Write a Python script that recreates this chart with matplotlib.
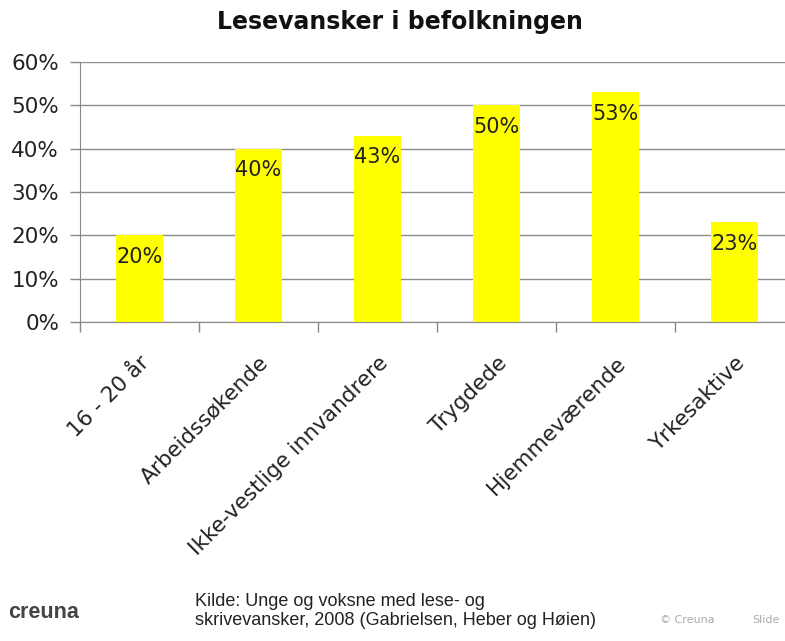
import matplotlib
matplotlib.use("Agg")
import matplotlib.pyplot as plt
from matplotlib.ticker import FixedLocator, PercentFormatter

categories = ["16 - 20 år", "Arbeidssøkende", "Ikke-vestlige innvandrere",
              "Trygdede", "Hjemmeværende", "Yrkesaktive"]
values = [20, 40, 43, 50, 53, 23]
yticks = [0, 10, 20, 30, 40, 50, 60]

W, H = 785, 641
fig = plt.figure(figsize=(W / 100, H / 100), dpi=100)
fig.patch.set_facecolor("white")
ax = fig.add_axes([80 / W, (H - 322) / H, 714 / W, 260 / H])

FONT = "DejaVu Sans"
x = range(len(categories))
ax.bar(x, values, width=0.39, color="#ffff00", zorder=3)
for i, v in enumerate(values):
    ax.text(i, v - 2.6, f"{v}%", ha="center", va="top", fontsize=15,
            family=FONT, color="#222222", zorder=4)

ax.set_xlim(-0.5, 5.5)
ax.set_ylim(0, 60)
ax.set_yticks(yticks)
ax.yaxis.set_major_formatter(PercentFormatter(decimals=0))
ax.set_xticks([i for i in x])
ax.set_xticklabels(categories, rotation=45, ha="right", rotation_mode="anchor",
                   fontsize=15.5, family=FONT, color="#222222")
ax.xaxis.set_minor_locator(FixedLocator([i + 0.5 for i in range(-1, 6)]))
ax.tick_params(axis="x", which="major", length=0, pad=22)
ax.tick_params(axis="x", which="minor", length=7, color="#888888", width=1)
ax.tick_params(axis="y", length=7, color="#888888", width=1, pad=8,
               labelsize=15.5, labelcolor="#222222")
for lab in ax.get_yticklabels():
    lab.set_family(FONT)
ax.grid(axis="y", color="#8c8c8c", linewidth=1, zorder=0)
for s in ["top", "right"]:
    ax.spines[s].set_visible(False)
ax.spines["left"].set_color("#888888")
ax.spines["bottom"].set_color("#888888")

fig.text(400 / W, 1 - 22 / H, "Lesevansker i befolkningen", ha="center",
         va="center", fontsize=17, fontweight="bold", family=FONT, color="#111111")

fig.text(8 / W, 1 - 612 / H, "creuna", ha="left", va="center", fontsize=15.5,
         fontweight="bold", family="Liberation Sans", color="#444444")
fig.text(195 / W, 1 - 611 / H,
         "Kilde: Unge og voksne med lese- og\nskrivevansker, 2008 (Gabrielsen, Heber og Høien)",
         ha="left", va="center", fontsize=13, family="Liberation Sans",
         color="#222222", linespacing=1.2)
fig.text(660 / W, 1 - 620 / H, "© Creuna", ha="left", va="center", fontsize=8,
         family=FONT, color="#aaaaaa")
fig.text(752 / W, 1 - 620 / H, "Slide", ha="left", va="center", fontsize=8,
         family=FONT, color="#aaaaaa")

fig.savefig("out.png", dpi=100)
